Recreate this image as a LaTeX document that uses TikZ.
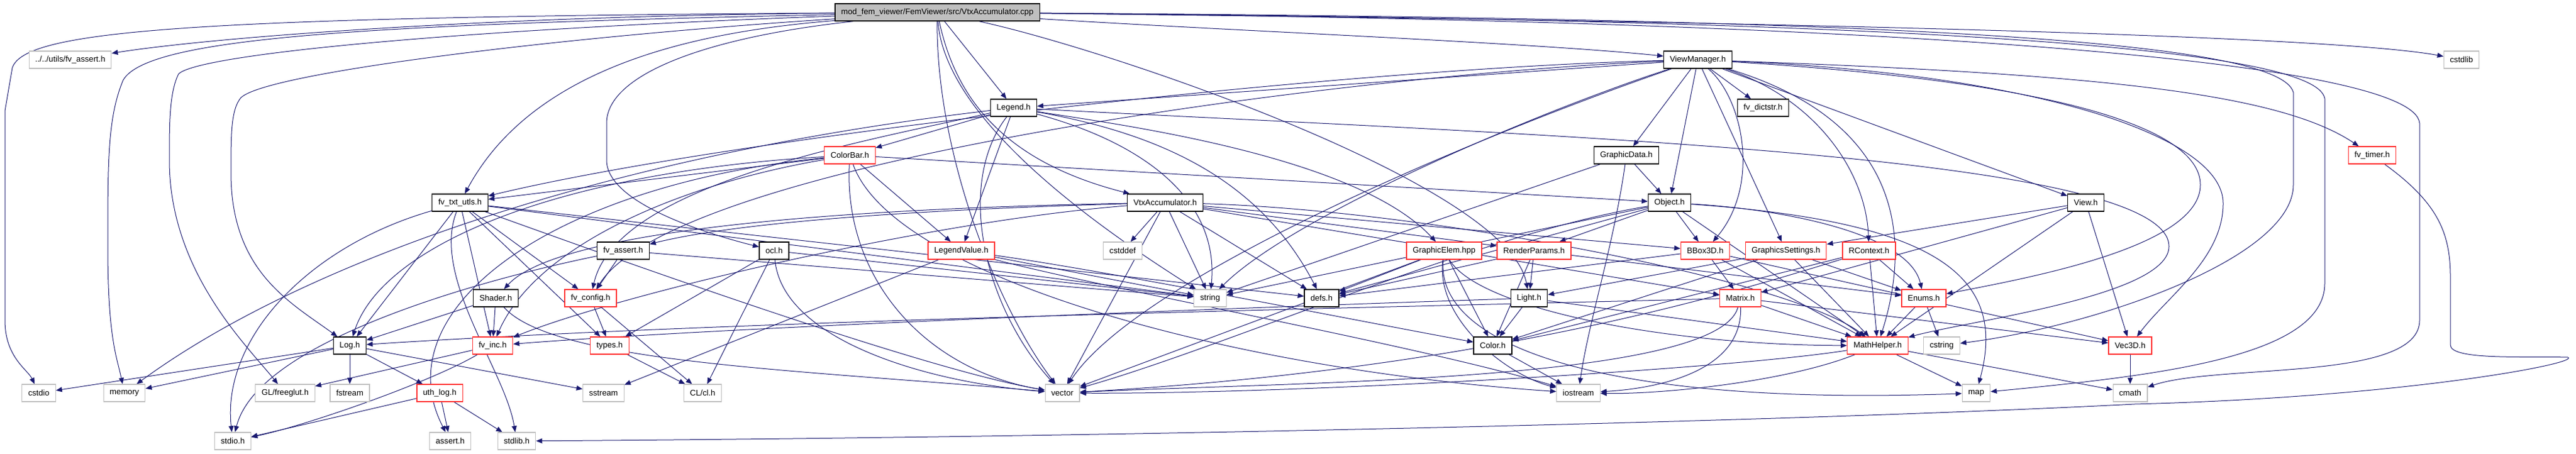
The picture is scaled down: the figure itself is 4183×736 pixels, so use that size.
\documentclass[tikz,border=0pt]{standalone}
\usepackage{fontspec}
\setmainfont{Liberation Sans}
\usetikzlibrary{arrows.meta,backgrounds}
\definecolor{edgeblue}{HTML}{191970}
\definecolor{truncred}{HTML}{FF3030}
\definecolor{sysgray}{HTML}{BFBFBF}

\begin{document}
\begin{tikzpicture}[x=1pt,y=-1pt,
	file/.style={draw=black,line width=1.3pt,fill=white,inner xsep=10pt,inner ysep=0pt,minimum height=28pt,font=\fontsize{13.2}{15}\selectfont},
	trunc/.style={file,draw=truncred},
	sys/.style={file,draw=sysgray,line width=1.1pt},
	edge/.style={draw=edgeblue,line width=1pt,-{Triangle[length=10pt,width=8pt]}}]
	\useasboundingbox (0,0) rectangle (4183,736);

	% files
	\node[file,fill=sysgray] (cpp) at (1522,20) {mod\_fem\_viewer/FemViewer/src/VtxAccumulator.cpp};
	\node[sys] (uassert) at (114,97) {../../utils/fv\_assert.h};
	\node[file] (viewmgr) at (2757,97) {ViewManager.h};
	\node[sys] (cstdlib) at (3997,97) {cstdlib};

	\node[file] (legend) at (1646,175) {Legend.h};
	\node[file] (dictstr) at (2863,175) {fv\_dictstr.h};

	\node[trunc] (colorbar) at (1380,252) {ColorBar.h};
	\node[file] (graphicdata) at (2641,252) {GraphicData.h};
	\node[trunc] (timer) at (3852,252) {fv\_timer.h};

	\node[file] (txtutls) at (747,329) {fv\_txt\_utls.h};
	\node[file] (vtxh) at (1892,329) {VtxAccumulator.h};
	\node[file] (object) at (2711,329) {Object.h};
	\node[file] (view) at (3387,329) {View.h};

	\node[file] (fvassert) at (1012,407) {fv\_assert.h};
	\node[file] (ocl) at (1257,407) {ocl.h};
	\node[trunc] (legval) at (1561,407) {LegendValue.h};
	\node[sys] (cstddef) at (1823,407) {cstddef};
	\node[trunc] (gelem) at (2345,407) {GraphicElem.hpp};
	\node[trunc] (rparams) at (2491,407) {RenderParams.h};
	\node[trunc] (bbox) at (2769,407) {BBox3D.h};
	\node[trunc] (gsettings) at (2900,407) {GraphicsSettings.h};
	\node[trunc] (rcontext) at (3035,407) {RContext.h};

	\node[file] (shader) at (805,484) {Shader.h};
	\node[trunc] (config) at (959,484) {fv\_config.h};
	\node[sys] (string) at (1965,484) {string};
	\node[file] (defs) at (2146,484) {defs.h};
	\node[file] (light) at (2483,484) {Light.h};
	\node[trunc] (matrix) at (2826,484) {Matrix.h};
	\node[trunc] (enums) at (3124,484) {Enums.h};

	\node[file] (log) at (568,561) {Log.h};
	\node[trunc] (inc) at (800,561) {fv\_inc.h};
	\node[trunc] (types) at (990,561) {types.h};
	\node[file] (color) at (2424,561) {Color.h};
	\node[trunc] (mathh) at (3049,561) {MathHelper.h};
	\node[sys] (cstring) at (3153,561) {cstring};
	\node[trunc] (vec3d) at (3459,561) {Vec3D.h};

	\node[sys] (cstdio) at (63,638) {cstdio};
	\node[sys] (memory) at (202,638) {memory};
	\node[sys] (freeglut) at (463,638) {GL/freeglut.h};
	\node[sys] (fstream) at (568,638) {fstream};
	\node[trunc] (uthlog) at (714,638) {uth\_log.h};
	\node[sys] (sstream) at (980,638) {sstream};
	\node[sys] (clh) at (1141,638) {CL/cl.h};
	\node[sys] (vector) at (1725,638) {vector};
	\node[sys] (iostream) at (2563,638) {iostream};
	\node[sys] (map) at (3209,638) {map};
	\node[sys] (cmath) at (3459,638) {cmath};

	\node[sys] (stdio) at (378,716) {stdio.h};
	\node[sys] (assert) at (731,716) {assert.h};
	\node[sys] (stdlib) at (839,716) {stdlib.h};

	\begin{scope}[on background layer]
	% VtxAccumulator.cpp
	\draw[edge] (cpp) .. controls (800,26) and (350,60) .. (uassert);
	\draw[edge] (cpp) .. controls (300,28) and (40,50) .. (20,110) -- (8,180) -- (8,520) .. controls (8,580) and (45,600) .. (cstdio);
	\draw[edge] (cpp) .. controls (600,40) and (240,60) .. (200,130) .. controls (175,190) and (175,260) .. (175,400) .. controls (175,550) and (190,580) .. (memory);
	\draw[edge] (cpp) .. controls (700,50) and (320,90) .. (290,120) .. controls (275,150) and (275,200) .. (275,260) .. controls (275,440) and (400,560) .. (freeglut);
	\draw[edge] (cpp) .. controls (900,60) and (420,120) .. (390,160) .. controls (375,180) and (375,220) .. (375,280) .. controls (375,440) and (470,490) .. (log);
	\draw[edge] (cpp) .. controls (1150,50) and (870,100) .. (txtutls);
	\draw[edge] (cpp) .. controls (1150,60) and (985,120) .. (985,200) -- (985,260) .. controls (985,330) and (1150,380) .. (ocl);
	\draw[edge] (cpp) -- (legend);
	\draw[edge] (cpp) .. controls (1550,150) and (1620,260) .. (vtxh);
	\draw[edge] (cpp) .. controls (2000,50) and (2500,70) .. (viewmgr);
	\draw[edge] (cpp) .. controls (1800,80) and (2450,300) .. (light);
	\draw[edge] (cpp) .. controls (1535,200) and (1800,380) .. (string);
	\draw[edge] (cpp) .. controls (1520,250) and (1620,500) .. (vector);
	\draw[edge] (cpp) .. controls (3000,36) and (3800,60) .. (cstdlib);
	\draw[edge] (cpp) .. controls (3000,30) and (3700,60) .. (3724,150) -- (3724,300) .. controls (3724,420) and (3400,530) .. (cstring);
	\draw[edge] (cpp) .. controls (3000,32) and (3760,70) .. (3775,160) -- (3775,460) .. controls (3775,580) and (3500,610) .. (map);
	\draw[edge] (cpp) .. controls (3100,34) and (3920,100) .. (3929,200) -- (3929,520) .. controls (3929,620) and (3600,590) .. (cmath);

	% ViewManager.h
	\draw[edge] (viewmgr) -- (legend);
	\draw[edge] (viewmgr) .. controls (2200,110) and (1200,220) .. (txtutls);
	\draw[edge] (viewmgr) .. controls (2200,120) and (1100,260) .. (config);
	\draw[edge] (viewmgr) .. controls (2500,180) and (2100,350) .. (string);
	\draw[edge] (viewmgr) .. controls (2400,220) and (1850,450) .. (vector);
	\draw[edge] (viewmgr) -- (graphicdata);
	\draw[edge] (viewmgr) -- (object);
	\draw[edge] (viewmgr) -- (dictstr);
	\draw[edge] (viewmgr) -- (gsettings);
	\draw[edge] (viewmgr) .. controls (2830,160) and (2860,300) .. (bbox);
	\draw[edge] (viewmgr) .. controls (2950,160) and (3030,280) .. (rcontext);
	\draw[edge] (viewmgr) -- (view);
	\draw[edge] (viewmgr) .. controls (3400,120) and (3700,150) .. (timer);
	\draw[edge] (viewmgr) .. controls (3300,130) and (3573,200) .. (3573,300) .. controls (3573,400) and (3300,450) .. (enums);
	\draw[edge] (viewmgr) .. controls (3300,120) and (3610,220) .. (3610,330) .. controls (3610,420) and (3520,480) .. (vec3d);
	\draw[edge] (viewmgr) .. controls (3100,200) and (3100,400) .. (mathh);

	% Legend.h
	\draw[edge] (legend) -- (colorbar);
	\draw[edge] (legend) -- (legval);
	\draw[edge] (legend) .. controls (1800,200) and (2200,250) .. (gelem);
	\draw[edge] (legend) .. controls (1850,230) and (1980,320) .. (string);
	\draw[edge] (legend) .. controls (1550,300) and (1600,500) .. (vector);
	\draw[edge] (legend) .. controls (1900,220) and (2050,300) .. (defs);
	\draw[edge] (legend) .. controls (1000,250) and (500,420) .. (memory);
	\draw[edge] (legend) .. controls (1400,230) and (1000,300) .. (config);
	\draw[edge] (legend) .. controls (2500,220) and (3522,250) .. (3522,400) .. controls (3522,480) and (3200,520) .. (mathh);

	% ColorBar.h
	\draw[edge] (colorbar) -- (txtutls);
	\draw[edge] (colorbar) -- (legval);
	\draw[edge] (colorbar) -- (object);
	\draw[edge] (colorbar) .. controls (900,280) and (620,400) .. (log);
	\draw[edge] (colorbar) .. controls (1100,300) and (870,400) .. (inc);
	\draw[edge] (colorbar) .. controls (1370,450) and (1500,600) .. (vector);
	\draw[edge] (colorbar) .. controls (1450,450) and (2000,600) .. (iostream);
	\draw[edge] (colorbar) .. controls (900,300) and (620,500) .. (assert);

	% fv_txt_utls.h
	\draw[edge] (txtutls) -- (log);
	\draw[edge] (txtutls) -- (inc);
	\draw[edge] (txtutls) -- (config);
	\draw[edge] (txtutls) -- (types);
	\draw[edge] (txtutls) .. controls (700,450) and (820,600) .. (stdlib);
	\draw[edge] (txtutls) .. controls (500,400) and (360,550) .. (stdio);
	\draw[edge] (txtutls) -- (string);
	\draw[edge] (txtutls) -- (defs);
	\draw[edge] (txtutls) .. controls (1000,420) and (1500,600) .. (vector);

	% VtxAccumulator.h
	\draw[edge] (vtxh) .. controls (1300,340) and (900,380) .. (shader);
	\draw[edge] (vtxh) .. controls (1500,340) and (1200,360) .. (fvassert);
	\draw[edge] (vtxh) .. controls (1500,360) and (1000,480) .. (inc);
	\draw[edge] (vtxh) -- (cstddef);
	\draw[edge] (vtxh) -- (string);
	\draw[edge] (vtxh) -- (vector);
	\draw[edge] (vtxh) -- (rparams);
	\draw[edge] (vtxh) -- (bbox);
	\draw[edge] (vtxh) -- (matrix);
	\draw[edge] (vtxh) .. controls (2300,340) and (2900,450) .. (mathh);
	\draw[edge] (vtxh) -- (defs);

	% ocl.h, fv_assert.h, Shader.h, fv_config.h, types.h
	\draw[edge] (ocl) -- (clh);
	\draw[edge] (ocl) .. controls (1270,550) and (1500,620) .. (vector);
	\draw[edge] (ocl) -- (string);
	\draw[edge] (ocl) -- (types);
	\draw[edge] (fvassert) -- (config);
	\draw[edge] (fvassert) -- (string);
	\draw[edge] (fvassert) .. controls (800,450) and (420,550) .. (stdio);
	\draw[edge] (shader) -- (log);
	\draw[edge] (shader) -- (inc);
	\draw[edge] (shader) .. controls (900,590) and (1300,600) .. (vector);
	\draw[edge] (config) -- (types);
	\draw[edge] (config) -- (clh);
	\draw[edge] (types) -- (clh);

	% LegendValue.h
	\draw[edge] (legval) -- (sstream);
	\draw[edge] (legval) -- (string);
	\draw[edge] (legval) .. controls (1800,470) and (2300,560) .. (iostream);
	\draw[edge] (legval) .. controls (1800,440) and (2200,520) .. (color);

	% Log.h, uth_log.h, fv_inc.h
	\draw[edge] (log) -- (cstdio);
	\draw[edge] (log) -- (memory);
	\draw[edge] (log) -- (fstream);
	\draw[edge] (log) -- (uthlog);
	\draw[edge] (log) -- (sstream);
	\draw[edge] (uthlog) -- (stdio);
	\draw[edge] (uthlog) -- (assert);
	\draw[edge] (uthlog) -- (stdlib);
	\draw[edge] (inc) -- (freeglut);
	\draw[edge] (inc) .. controls (700,620) and (500,690) .. (stdio);

	% GraphicElem.hpp, RenderParams.h
	\draw[edge] (gelem) -- (defs);
	\draw[edge] (gelem) -- (vector);
	\draw[edge] (gelem) -- (color);
	\draw[edge] (gelem) .. controls (2400,500) and (2700,560) .. (mathh);
	\draw[edge] (gelem) .. controls (2330,520) and (2450,610) .. (iostream);
	\draw[edge] (gelem) .. controls (2330,560) and (2600,660) .. (map);
	\draw[edge] (rparams) -- (defs);
	\draw[edge] (rparams) -- (color);
	\draw[edge] (rparams) -- (light);
	\draw[edge] (rparams) -- (enums);

	% BBox3D.h, GraphicsSettings.h, RContext.h, View.h
	\draw[edge] (bbox) -- (defs);
	\draw[edge] (bbox) -- (matrix);
	\draw[edge] (bbox) -- (mathh);
	\draw[edge] (bbox) -- (vec3d);
	\draw[edge] (gsettings) -- (light);
	\draw[edge] (gsettings) -- (color);
	\draw[edge] (gsettings) -- (mathh);
	\draw[edge] (gsettings) -- (enums);
	\draw[edge] (rcontext) .. controls (2800,480) and (2400,600) .. (vector);
	\draw[edge] (rcontext) -- (color);
	\draw[edge] (rcontext) -- (mathh);
	\draw[edge] (rcontext) -- (enums);
	\draw[edge] (view) -- (gsettings);
	\draw[edge] (view) -- (matrix);
	\draw[edge] (view) -- (mathh);
	\draw[edge] (view) -- (vec3d);

	% GraphicData.h, Object.h
	\draw[edge] (graphicdata) -- (object);
	\draw[edge] (graphicdata) -- (string);
	\draw[edge] (graphicdata) .. controls (2620,400) and (2580,520) .. (iostream);
	\draw[edge] (object) -- (string);
	\draw[edge] (object) .. controls (2400,380) and (2000,560) .. (vector);
	\draw[edge] (object) -- (defs);
	\draw[edge] (object) -- (rparams);
	\draw[edge] (object) -- (bbox);
	\draw[edge] (object) .. controls (2900,340) and (3100,380) .. (enums);
	\draw[edge] (object) -- (mathh);
	\draw[edge] (object) .. controls (3150,360) and (3260,450) .. (map);

	% Light.h, Matrix.h, Color.h, Enums.h, MathHelper.h, Vec3D.h
	\draw[edge] (light) -- (color);
	\draw[edge] (light) -- (mathh);
	\draw[edge] (light) .. controls (2000,500) and (1200,530) .. (inc);
	\draw[edge] (matrix) .. controls (2790,620) and (2100,620) .. (vector);
	\draw[edge] (matrix) .. controls (2830,600) and (2700,630) .. (iostream);
	\draw[edge] (matrix) -- (mathh);
	\draw[edge] (matrix) -- (vec3d);
	\draw[edge] (matrix) .. controls (2200,500) and (1200,520) .. (log);
	\draw[edge] (color) -- (iostream);
	\draw[edge] (enums) -- (mathh);
	\draw[edge] (enums) -- (cstring);
	\draw[edge] (mathh) .. controls (2800,600) and (2100,640) .. (vector);
	\draw[edge] (mathh) -- (map);
	\draw[edge] (mathh) -- (cmath);
	\draw[edge] (mathh) .. controls (2900,620) and (2700,640) .. (iostream);
	\draw[edge] (vec3d) -- (cmath);

	% fv_timer.h goes round the right side
	\draw[edge] (timer) .. controls (3960,330) and (3979,380) .. (3979,450) -- (3979,560) .. controls (3979,585) and (4100,578) .. (4170,580) .. controls (4190,590) and (3900,645) .. (3466,656) .. controls (3000,680) and (2000,708) .. (stdlib);
	\end{scope}
\end{tikzpicture}
\end{document}
